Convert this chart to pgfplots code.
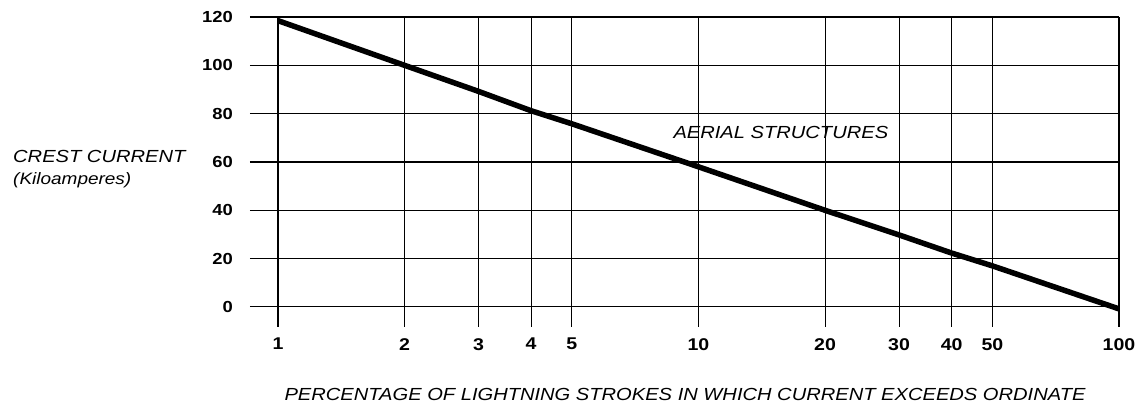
\documentclass[border=0pt]{standalone}
\usepackage{fontspec}
\setmainfont{Liberation Sans}[FakeStretch=1.15]
\usepackage{pgfplots}
\pgfplotsset{compat=1.18}
\begin{document}
\begin{tikzpicture}
\begin{axis}[
 xmode=log, width=869pt, height=310pt, scale only axis,
 xmin=0.858, xmax=100, ymin=-8.3, ymax=120,
 xtick={1,2,3,4,5,10,20,30,40,50,100},
 xticklabels={1,2,3,4,5,10,20,30,40,50,100},
 ytick={0,20,40,60,80,100,120},
 yticklabels={0,20,40,60,80,100,120},
 grid=major, major grid style={black, line width=1.1pt},
 axis line style={draw=none}, major tick length=0pt,
 /pgf/number format/assume math mode=true,
 ticklabel style={font=\bfseries\fontsize{16}{18}\selectfont, inner sep=0pt},
 xticklabel style={anchor=north, yshift=-11pt, font=\bfseries\fontsize{17}{19}\selectfont},
 yticklabel style={anchor=east, xshift=-17pt},
 clip=false,
]
\addplot[black, line width=5.5pt] coordinates {
 (1,118.5) (2,100) (3,89.2) (4,81.2) (5,75.8) (10,58) (20,40) (30,29.8) (40,22.3) (50,17) (100,-0.8)
};
\node[anchor=base, font=\itshape\fontsize{17.5}{20}\selectfont] at (axis description cs:0.5006,-0.2355) {PERCENTAGE OF LIGHTNING STROKES IN WHICH CURRENT EXCEEDS ORDINATE};
\node[anchor=base west, inner sep=0pt, font=\itshape\fontsize{17.5}{20}\selectfont] at (axis description cs:-0.2727,0.532) {CREST CURRENT};
\node[anchor=base west, inner sep=0pt, font=\itshape\fontsize{16.5}{18}\selectfont] at (axis description cs:-0.2727,0.461) {(Kiloamperes)};
\node[font=\itshape\fontsize{17.5}{20}\selectfont] at (axis cs:15.7,72.4) {AERIAL STRUCTURES};
\coordinate (sw) at (rel axis cs:0,0);
\end{axis}
\pgfresetboundingbox
\path ([shift={(-250pt,-85pt)}]sw) rectangle ([shift={(893pt,327pt)}]sw);
\end{tikzpicture}
\end{document}
